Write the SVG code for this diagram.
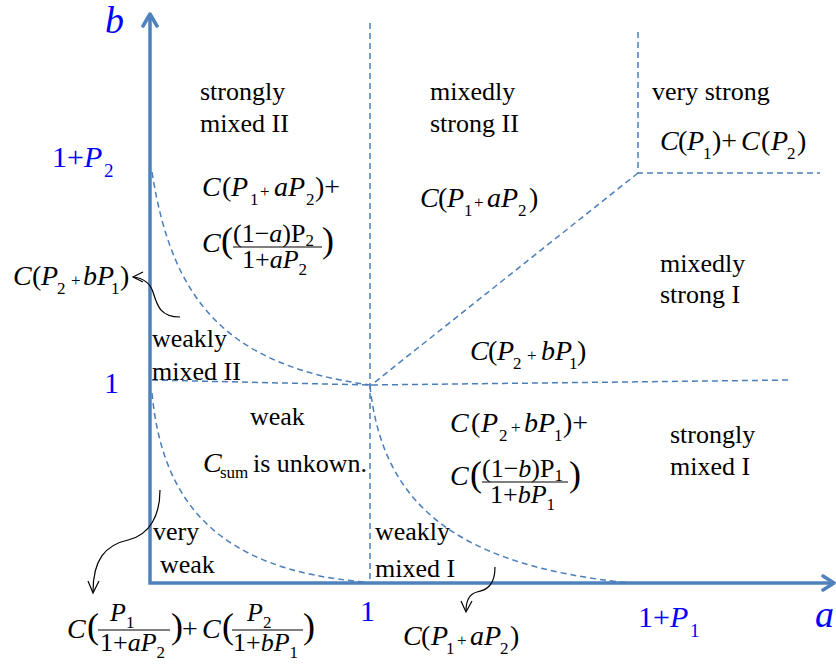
<svg xmlns="http://www.w3.org/2000/svg" width="836" height="664" viewBox="0 0 836 664" font-family="Liberation Serif, Tinos, DejaVu Serif, Times New Roman, Times, serif">
<style>
.t{font-size:26px;fill:#000}
.m{font-size:28px;fill:#000}
.f{font-size:26px;fill:#000}
.i{font-style:italic}
.s{font-size:17px;font-style:normal}
.p{font-size:36px;fill:#000}
.b{fill:#0000FF}
.dash{fill:none;stroke:#4A7EBB;stroke-width:1.5;stroke-dasharray:6 4}
.axis{fill:none;stroke:#4F81BD;stroke-width:3.5;stroke-linecap:square}
.arr{fill:none;stroke:#000;stroke-width:1.2}
.bar{stroke:#000;stroke-width:1.2}
</style>
<rect width="836" height="664" fill="#fff"/>

<g id="axes">
<path class="axis" d="M150,583 L150,16 M150,583 L832,583"/>
<path class="axis" style="stroke-linecap:round;stroke-linejoin:round" d="M143,26 L150,14 L157,26 M823,576 L834,583 L823,590"/>
</g>

<g id="boundaries">
<path class="dash" d="M370,23 L370,583"/>
<path class="dash" d="M152,380 L370,385 L792,380"/>
<path class="dash" d="M638,32 L638,173 L820,173"/>
<path class="dash" d="M638,173 L370,386"/>
<path class="dash" d="M152,172 C172,300 225,365 370,385"/>
<path class="dash" d="M152,393 C162,500 215,570 365,582"/>
<path class="dash" d="M370,386 C382,500 450,565 630,583"/>
</g>

<g id="axis-labels">
<text class="b i" x="105" y="33" style="font-size:38px">b</text>
<text class="b i" x="815" y="627" style="font-size:38px">a</text>
<text class="b" x="52" y="167" style="font-size:30px">1+<tspan class="i">P</tspan><tspan x="104" y="177" style="font-size:19px">2</tspan></text>
<text class="b" x="638" y="627" style="font-size:30px">1+<tspan class="i">P</tspan><tspan x="690" y="637" style="font-size:19px">1</tspan></text>
<text class="b" x="104" y="393" style="font-size:30px">1</text>
<text class="b" x="360" y="621" style="font-size:30px">1</text>
</g>

<g id="strongly-mixed-II">
<text class="t" x="200" y="100">strongly</text>
<text class="t" x="200" y="132">mixed II</text>
<text class="m"><tspan class="i" x="202" y="196">C</tspan><tspan x="222">(</tspan><tspan class="i" x="231">P</tspan><tspan class="s" x="250" y="205">1</tspan><tspan class="s" x="260" y="197">+</tspan><tspan class="i" x="274" y="196">aP</tspan><tspan class="s" x="306" y="205">2</tspan><tspan x="315" y="196">)+</tspan></text>
<text class="m i" x="202" y="252">C</text>
<text class="p" x="221" y="252">(</text>
<text class="f" x="233" y="242">(1−<tspan class="i">a</tspan>)P<tspan class="s" dy="4">2</tspan></text>
<line class="bar" x1="233" y1="247" x2="322" y2="247"/>
<text class="f" x="242" y="268">1+<tspan class="i">aP</tspan><tspan class="s" dy="7">2</tspan></text>
<text class="p" x="322" y="252">)</text>
</g>

<g id="mixedly-strong-II">
<text class="t" x="430" y="100">mixedly</text>
<text class="t" x="430" y="132">strong II</text>
<text class="m"><tspan class="i" x="420" y="207">C</tspan><tspan x="438">(</tspan><tspan class="i" x="447">P</tspan><tspan class="s" x="464" y="216">1</tspan><tspan class="s" x="474" y="208">+</tspan><tspan class="i" x="487" y="207">aP</tspan><tspan class="s" x="518" y="216">2</tspan><tspan x="529" y="207">)</tspan></text>
</g>

<g id="very-strong">
<text class="t" x="652" y="100">very strong</text>
<text class="m"><tspan class="i" x="660" y="150">C</tspan><tspan x="678">(</tspan><tspan class="i" x="687">P</tspan><tspan class="s" x="703" y="159">1</tspan><tspan x="712" y="150">)+</tspan><tspan class="i" x="741">C</tspan><tspan x="761">(</tspan><tspan class="i" x="771">P</tspan><tspan class="s" x="787" y="159">2</tspan><tspan x="797" y="150">)</tspan></text>
</g>

<g id="mixedly-strong-I">
<text class="t" x="660" y="272">mixedly</text>
<text class="t" x="660" y="303">strong I</text>
<text class="m"><tspan class="i" x="470" y="360">C</tspan><tspan x="488">(</tspan><tspan class="i" x="497">P</tspan><tspan class="s" x="513" y="369">2</tspan><tspan class="s" x="527" y="361">+</tspan><tspan class="i" x="541" y="360">bP</tspan><tspan class="s" x="569" y="369">1</tspan><tspan x="577" y="360">)</tspan></text>
</g>

<g id="weakly-mixed-II">
<text class="t" x="152" y="347">weakly</text>
<text class="t" x="152" y="380">mixed II</text>
<text class="m"><tspan class="i" x="13" y="285">C</tspan><tspan x="32">(</tspan><tspan class="i" x="41">P</tspan><tspan class="s" x="57" y="294">2</tspan><tspan class="s" x="71" y="286">+</tspan><tspan class="i" x="83" y="285">bP</tspan><tspan class="s" x="111" y="294">1</tspan><tspan x="120" y="285">)</tspan></text>
</g>

<g id="weak">
<text class="t" x="250" y="425">weak</text>
<text class="t"><tspan class="i" x="203" y="472" style="font-size:28px">C</tspan><tspan x="220" y="478" style="font-size:17px">sum</tspan><tspan x="253" y="472">is unkown.</tspan></text>
</g>

<g id="strongly-mixed-I">
<text class="t" x="670" y="443">strongly</text>
<text class="t" x="670" y="475">mixed I</text>
<text class="m"><tspan class="i" x="450" y="432">C</tspan><tspan x="471">(</tspan><tspan class="i" x="481">P</tspan><tspan class="s" x="499" y="441">2</tspan><tspan class="s" x="511" y="433">+</tspan><tspan class="i" x="524" y="432">bP</tspan><tspan class="s" x="554" y="441">1</tspan><tspan x="563" y="432">)+</tspan></text>
<text class="m i" x="450" y="485">C</text>
<text class="p" x="470" y="486">(</text>
<text class="f" x="482" y="477">(1−<tspan class="i">b</tspan>)P<tspan class="s" dy="4">1</tspan></text>
<line class="bar" x1="482" y1="482" x2="568" y2="482"/>
<text class="f" x="490" y="503">1+<tspan class="i">bP</tspan><tspan class="s" dy="7">1</tspan></text>
<text class="p" x="569" y="486">)</text>
</g>

<g id="very-weak">
<text class="t" x="153" y="540">very</text>
<text class="t" x="160" y="573">weak</text>
<text class="m i" x="67" y="638">C</text>
<text class="p" x="87" y="638">(</text>
<text class="f i" x="110" y="621">P<tspan class="s" x="126" y="628">1</tspan></text>
<line class="bar" x1="98" y1="630" x2="170" y2="630"/>
<text class="f" x="100" y="651">1+<tspan class="i">aP</tspan><tspan class="s" dy="7">2</tspan></text>
<text class="p" x="171" y="638">)</text>
<text class="m" x="182" y="638">+</text>
<text class="m i" x="202" y="638">C</text>
<text class="p" x="222" y="638">(</text>
<text class="f i" x="247" y="621">P<tspan class="s" x="263" y="628">2</tspan></text>
<line class="bar" x1="232" y1="630" x2="303" y2="630"/>
<text class="f" x="233" y="651">1+<tspan class="i">bP</tspan><tspan class="s" dy="7">1</tspan></text>
<text class="p" x="303" y="638">)</text>
</g>

<g id="weakly-mixed-I">
<text class="t" x="375" y="540">weakly</text>
<text class="t" x="375" y="577">mixed I</text>
<text class="m"><tspan class="i" x="403" y="645">C</tspan><tspan x="421">(</tspan><tspan class="i" x="431">P</tspan><tspan class="s" x="446" y="654">1</tspan><tspan class="s" x="457" y="646">+</tspan><tspan class="i" x="470" y="645">aP</tspan><tspan class="s" x="500" y="654">2</tspan><tspan x="510" y="645">)</tspan></text>
</g>

<g id="connectors">
<path class="arr" d="M180,317 C160,317 157,305 153,292 C150,283 143,278 133,277"/>
<path class="arr" d="M143,272 L133,277 L143,282"/>
<path class="arr" d="M160,490 C160,515 150,535 128,540 C105,545 93,560 93,592"/>
<path class="arr" d="M88,581 L93,593 L99,581"/>
<path class="arr" d="M495,567 C495,585 487,590 477,592 C469,594 466,600 466,611"/>
<path class="arr" d="M461,601 L466,612 L472,601"/>
</g>
</svg>
